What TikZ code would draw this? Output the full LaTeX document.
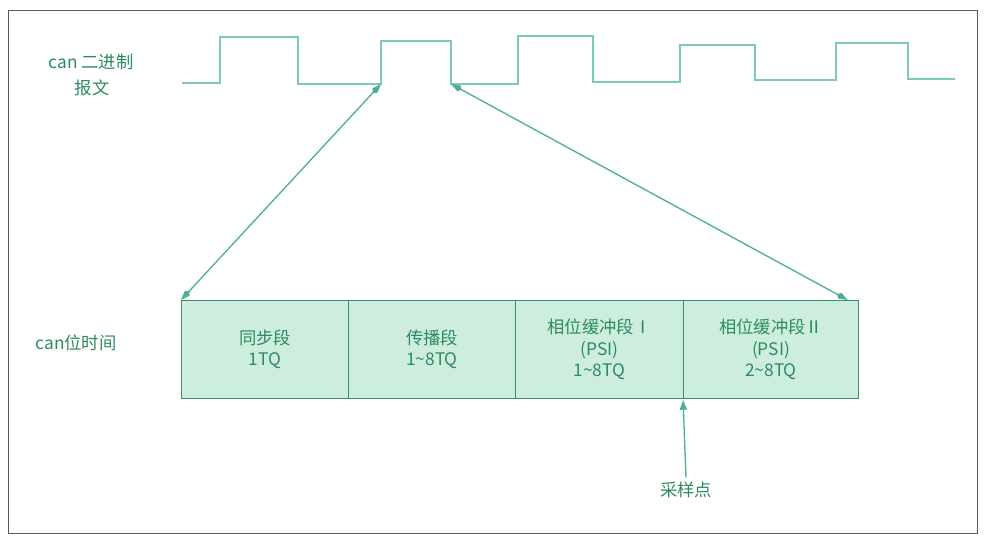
\documentclass[tikz,border=0pt]{standalone}
\usepackage{fontspec}
\setmainfont{Noto Sans CJK SC}
\usetikzlibrary{arrows.meta}
\definecolor{wave}{HTML}{7CC9B8}
\definecolor{lnk}{HTML}{4FAE9B}
\definecolor{txt}{HTML}{2E8B5F}
\definecolor{boxf}{HTML}{CDEEDD}
\definecolor{boxd}{HTML}{3E8F6A}
\begin{document}
\begin{tikzpicture}[x=0.0264cm,y=-0.0264cm,
  lbl/.style={text=txt,font=\fontsize{13}{16}\selectfont,align=left},
  seg/.style={draw=boxd,fill=boxf,line width=0.8pt,minimum height=98*0.0264cm,text=txt,font=\fontsize{13}{16}\selectfont,align=center,anchor=north west,inner sep=0pt},
  conn/.style={draw=lnk,line width=1pt,{Kite[length=9pt,width=5pt]}-{Kite[length=9pt,width=5pt]}}]
\useasboundingbox (0,0) rectangle (986,543);
\draw[gray!70!black,line width=0.6pt] (8,10) rectangle (977,533);
\draw[wave,line width=1.3pt] (182,83) -- (220,83) -- (220,37) -- (298,37) -- (298,84) -- (381,84) -- (381,41) -- (451,41) -- (451,84) -- (518,84) -- (518,36) -- (593,36) -- (593,82) -- (680,82) -- (680,45) -- (755,45) -- (755,80) -- (836,80) -- (836,43) -- (908,43) -- (908,79) -- (955,79);
\node[lbl,anchor=west] (l1) at (44,62) {can 二进制};
\node[lbl,anchor=west] (l2) at (70,88) {报文};
\node[lbl,anchor=west] (l3) at (31,343) {can位时间};
\node[seg,minimum width=167*0.0264cm] (s1) at (181,300) {同步段\\1TQ};
\node[seg,minimum width=167*0.0264cm] (s2) at (348,300) {传播段\\1\textasciitilde8TQ};
\node[seg,minimum width=168*0.0264cm] (s3) at (515,300) {相位缓冲段Ⅰ\\(PSI)\\1\textasciitilde8TQ};
\node[seg,minimum width=175*0.0264cm] (s4) at (683,300) {相位缓冲段Ⅱ\\(PSI)\\2\textasciitilde8TQ};
\coordinate (r1) at (381,84);
\coordinate (f1) at (451,84);
\draw[conn] (r1) -- (s1.north west);
\draw[conn] (f1) -- ([xshift=-0.3cm]s4.north east);
\node[lbl] (sp) at (686,490) {采样点};
\draw[lnk,line width=1pt,-{Latex[length=8pt,width=6pt]}] (sp.north) -- (s4.south west);
\end{tikzpicture}
\end{document}
